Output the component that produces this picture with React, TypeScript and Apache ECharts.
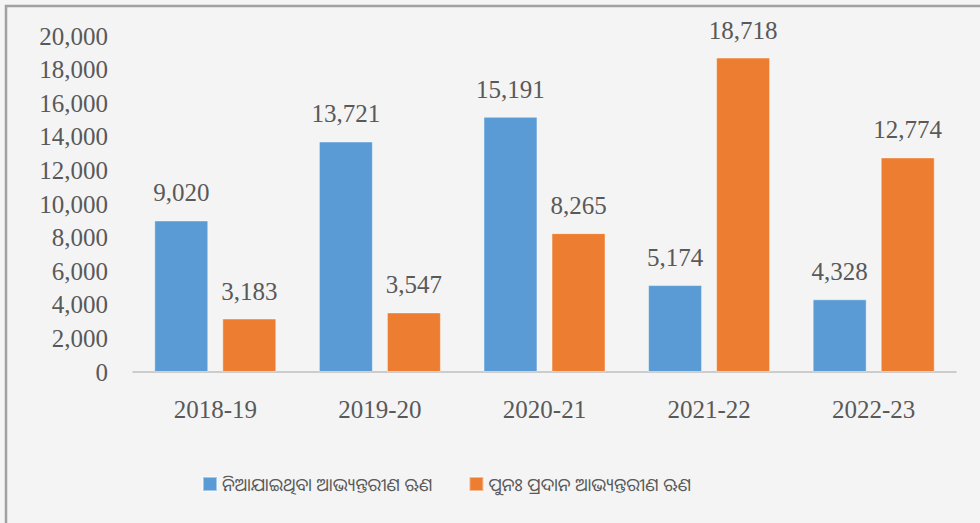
import React, { useEffect, useRef } from "react";
import * as echarts from "echarts";

const categories = ["2018-19", "2019-20", "2020-21", "2021-22", "2022-23"];
const seriesNames = ["ନିଆଯାଇଥିବା ଆଭ୍ୟନ୍ତରୀଣ ଋଣ", "ପୁନଃ ପ୍ରଦାନ ଆଭ୍ୟନ୍ତରୀଣ ଋଣ"];
const borrowed = [9020, 13721, 15191, 5174, 4328];
const repaid = [3183, 3547, 8265, 18718, 12774];
const colors = ["#5b9bd5", "#ed7d31"];

const serif = "'Liberation Serif', 'Times New Roman', serif";
const textColor = "#595959";

export default function App() {
  const ref = useRef<HTMLDivElement>(null);
  useEffect(() => {
    if (!ref.current) return;
    const chart = echarts.init(ref.current, null, { renderer: "svg" });
    const fmt = (v: number) => v.toLocaleString("en-US");
    const label = {
      show: true,
      position: "top",
      distance: 15,
      fontFamily: serif,
      fontSize: 25,
      color: textColor,
      formatter: (p: any) => fmt(p.value),
    };
    chart.setOption({
      animation: false,
      backgroundColor: "#f4f4f4",
      graphic: [
        {
          type: "rect",
          shape: { x: 6, y: 6, width: 1000, height: 600 },
          style: { fill: "none", stroke: "#a0a0a0", lineWidth: 2.5 },
          silent: true,
        },
      ],
      grid: { left: 133, right: 24, top: 36, bottom: 151 },
      legend: {
        left: 197,
        top: 470,
        itemWidth: 14,
        itemHeight: 14,
        itemGap: 36,
        icon: "rect",
        textStyle: {
          fontFamily: "'Noto Sans Oriya', 'Noto Sans', sans-serif",
          fontSize: 18,
          color: textColor,
        },
        data: seriesNames,
      },
      xAxis: {
        type: "category",
        data: categories,
        axisLine: { lineStyle: { color: "#bfbfbf", width: 1.5 } },
        axisTick: { show: false },
        axisLabel: {
          fontFamily: serif,
          fontSize: 25,
          color: textColor,
          margin: 25,
        },
      },
      yAxis: {
        type: "value",
        min: 0,
        max: 20000,
        interval: 2000,
        splitLine: { show: false },
        axisLine: { show: false },
        axisTick: { show: false },
        axisLabel: {
          fontFamily: serif,
          fontSize: 25,
          color: textColor,
          margin: 25,
          formatter: (v: number) => fmt(v),
        },
      },
      series: [
        {
          name: seriesNames[0],
          type: "bar",
          data: borrowed,
          barWidth: 54,
          barGap: "26%",
          itemStyle: { color: colors[0], borderColor: "rgba(255,255,255,0.45)", borderWidth: 1 },
          label,
        },
        {
          name: seriesNames[1],
          type: "bar",
          data: repaid,
          barWidth: 54,
          barGap: "26%",
          itemStyle: { color: colors[1], borderColor: "rgba(255,255,255,0.45)", borderWidth: 1 },
          label,
        },
      ],
    });
    return () => chart.dispose();
  }, []);
  return (
    <div
      ref={ref}
      style={{ position: "fixed", left: 0, top: 0, width: 980, height: 523 }}
    />
  );
}
